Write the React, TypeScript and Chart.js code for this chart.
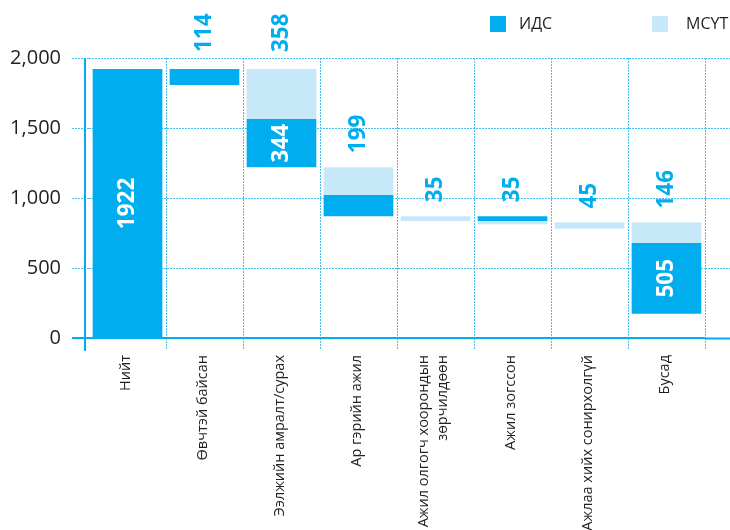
import React, { useEffect, useRef } from 'react';
import { Chart, registerables } from 'chart.js';

Chart.register(...registerables);

// ---- data ----
const categories: (string | string[])[] = [
  'Нийт',
  'Өвчтэй байсан',
  'Ээлжийн амралт/сурах',
  'Ар гэрийн ажил',
  ['Ажил олгогч хоорондын', 'зөрчилдөөн'],
  'Ажил зогссон',
  'Ажлаа хийх сонирхолгүй',
  'Бусад',
];
const seriesNames = ['ИДС', 'МСҮТ'];
const idsValues = [1922, 114, 344, 151, 0, 35, 0, 505];
const msuytValues = [0, 0, 358, 199, 35, 23, 45, 146];
// level at which each waterfall step starts (top of the floating bar)
const stepTops = [1922, 1922, 1922, 1220, 870, 870, 825, 825];
// whether the ИДС segment sits above the МСҮТ segment in that step
const idsOnTop = [true, true, false, false, false, true, false, false];
const yMin = 0;
const yMax = 2000;
const yStep = 500;

// ---- styles ----
const BLUE = '#00AEEF';
const LIGHT = '#C7E8F8';
const GRID = '#45BEF0';
const TEXT = '#231F20';
const FONT = "'Open Sans', sans-serif";

const idsRanges = categories.map((_, i) => {
  const v = idsValues[i];
  if (!v) return null;
  const top = idsOnTop[i] ? stepTops[i] : stepTops[i] - msuytValues[i];
  return [top - v, top] as [number, number];
});
const msuytRanges = categories.map((_, i) => {
  const v = msuytValues[i];
  if (!v) return null;
  const top = idsOnTop[i] ? stepTops[i] - idsValues[i] : stepTops[i];
  return [top - v, top] as [number, number];
});

function drawRotated(ctx: CanvasRenderingContext2D, text: string, x: number, y: number, align: CanvasTextAlign, color: string) {
  ctx.save();
  ctx.translate(x, y);
  ctx.rotate(-Math.PI / 2);
  ctx.textAlign = align;
  ctx.textBaseline = 'middle';
  ctx.fillStyle = color;
  ctx.font = `bold 22.5px ${FONT}`;
  ctx.fillText(text, 0, 0);
  ctx.restore();
}

const overlayPlugin = {
  id: 'overlay',
  afterDatasetsDraw(chart: any) {
    const { ctx, chartArea, scales } = chart;
    const ys = scales.y;
    const xs = scales.x;

    // y axis line (slightly left of the first category)
    ctx.save();
    ctx.strokeStyle = BLUE;
    ctx.lineWidth = 2;
    ctx.beginPath();
    ctx.moveTo(chartArea.left - 4, chartArea.top);
    ctx.lineTo(chartArea.left - 4, chartArea.bottom + 13);
    ctx.stroke();
    ctx.restore();

    // category labels (rotated, multi-line centred on the category)
    ctx.save();
    ctx.font = `14.5px ${FONT}`;
    ctx.fillStyle = TEXT;
    categories.forEach((lab, i) => {
      const lines = Array.isArray(lab) ? lab : [lab];
      const cx = xs.getPixelForValue(i);
      lines.forEach((line, k) => {
        const bx = cx + 2 + (k - (lines.length - 1) / 2) * 19;
        ctx.save();
        ctx.translate(bx, chartArea.bottom + 17);
        ctx.rotate(-Math.PI / 2);
        ctx.textAlign = 'right';
        ctx.textBaseline = 'alphabetic';
        ctx.fillText(line, 0, 0);
        ctx.restore();
      });
    });
    ctx.restore();

    // value labels
    categories.forEach((_, i) => {
      const cx = xs.getPixelForValue(i);
      const topPx = ys.getPixelForValue(stepTops[i]);
      let aboveY = topPx - 14;
      if (aboveY - 42 < chartArea.top) aboveY = Math.min(aboveY, chartArea.top - 6);
      const ir = idsRanges[i];
      if (ir) {
        const y0 = ys.getPixelForValue(ir[1]);
        const y1 = ys.getPixelForValue(ir[0]);
        if (y1 - y0 >= 40) {
          drawRotated(ctx, String(idsValues[i]), cx, (y0 + y1) / 2, 'center', '#FFFFFF');
        } else if (idsOnTop[i]) {
          drawRotated(ctx, String(idsValues[i]), cx, aboveY, 'left', BLUE);
        }
      }
      if (msuytRanges[i] && !idsOnTop[i]) {
        drawRotated(ctx, String(msuytValues[i]), cx, aboveY, 'left', BLUE);
      }
    });

    // legend
    const items = [
      { label: seriesNames[0], color: BLUE, bx: 490, tx: 519 },
      { label: seriesNames[1], color: LIGHT, bx: 652, tx: 686 },
    ];
    ctx.save();
    ctx.font = `16px ${FONT}`;
    ctx.textBaseline = 'middle';
    ctx.textAlign = 'left';
    items.forEach((it) => {
      ctx.fillStyle = it.color;
      ctx.fillRect(it.bx, 16, 16, 16);
      ctx.fillStyle = TEXT;
      ctx.fillText(it.label, it.tx, 24);
    });
    ctx.restore();
  },
};

const isZero = (c: any) => !!(c && c.tick && c.tick.value === 0);

export default function App() {
  const ref = useRef<HTMLCanvasElement | null>(null);
  useEffect(() => {
    if (!ref.current) return;
    Chart.defaults.font.family = FONT;
    const chart = new Chart(ref.current, {
      type: 'bar',
      data: {
        labels: categories as any,
        datasets: [
          {
            label: seriesNames[0],
            data: idsRanges as any,
            backgroundColor: BLUE,
            borderWidth: 0,
            grouped: false,
            barPercentage: 0.905,
            categoryPercentage: 1,
          },
          {
            label: seriesNames[1],
            data: msuytRanges as any,
            backgroundColor: LIGHT,
            borderWidth: 0,
            grouped: false,
            barPercentage: 0.905,
            categoryPercentage: 1,
          },
        ],
      },
      options: {
        animation: false,
        responsive: true,
        maintainAspectRatio: false,
        layout: { padding: { top: 58, left: 0, right: 0, bottom: 0 } },
        plugins: {
          legend: { display: false },
          tooltip: { enabled: false },
        },
        scales: {
          x: {
            grid: {
              offset: true,
              color: (c: any) => (c && c.index === 0 ? 'rgba(0,0,0,0)' : GRID),
              tickColor: (c: any) => (c && c.index === 0 ? 'rgba(0,0,0,0)' : GRID),
              lineWidth: 1,
              tickLength: 12,
              tickBorderDash: [2, 1],
            },
            border: { display: false, dash: [2, 1] },
            ticks: { display: false, autoSkip: false },
            afterFit: (s: any) => {
              s.height = 192;
            },
          },
          y: {
            min: yMin,
            max: yMax,
            ticks: {
              stepSize: yStep,
              padding: 11,
              color: TEXT,
              font: { family: FONT, size: 20 },
              callback: (v: any) => Number(v).toLocaleString('en-US'),
            },
            grid: {
              color: (c: any) => (isZero(c) ? BLUE : GRID),
              tickColor: (c: any) => (isZero(c) ? BLUE : GRID),
              lineWidth: (c: any) => (isZero(c) ? 2 : 1),
              tickWidth: (c: any) => (isZero(c) ? 2 : 1),
              tickLength: 17,
              tickBorderDash: (c: any) => (isZero(c) ? [] : [2, 1]),
            },
            border: {
              display: false,
              dash: (c: any) => (isZero(c) ? [] : [2, 1]),
            },
            afterFit: (s: any) => {
              s.width = 89;
            },
          },
          y2: {
            position: 'right',
            min: yMin,
            max: yMax,
            ticks: { stepSize: yStep, display: false },
            grid: {
              drawOnChartArea: false,
              drawTicks: true,
              tickLength: 25,
              tickColor: (c: any) => (isZero(c) ? BLUE : GRID),
              tickWidth: (c: any) => (isZero(c) ? 2 : 1),
              tickBorderDash: (c: any) => (isZero(c) ? [] : [2, 1]),
            },
            border: { display: false },
            afterFit: (s: any) => {
              s.width = 25;
            },
          },
        },
      } as any,
      plugins: [overlayPlugin],
    });
    return () => chart.destroy();
  }, []);

  return (
    <div style={{ position: 'absolute', left: 0, top: 0, width: 730, height: 530, background: '#fff' }}>
      <canvas ref={ref} />
    </div>
  );
}
